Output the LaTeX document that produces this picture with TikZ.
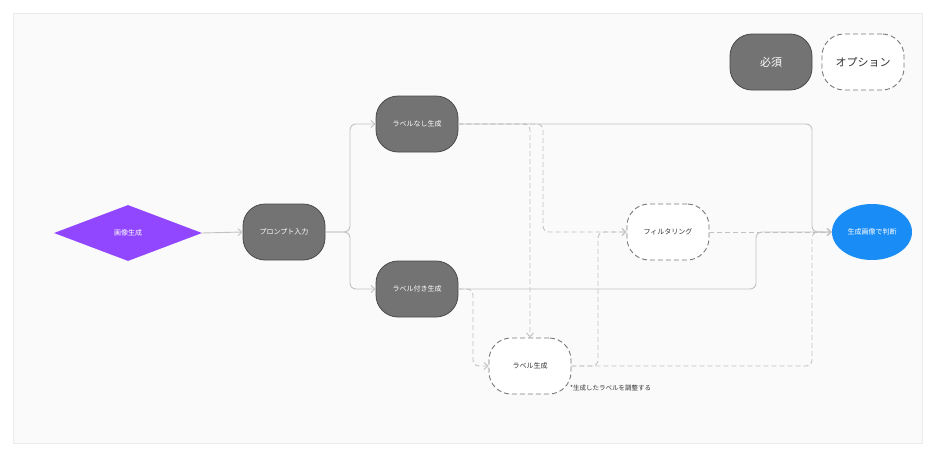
\documentclass[tikz,border=0pt]{standalone}
\usepackage{fontspec}
\setmainfont{Noto Sans CJK JP}
\usetikzlibrary{shapes.geometric,arrows.meta,positioning}
\definecolor{bgc}{HTML}{FAFAFA}
\definecolor{bgline}{HTML}{EBEBEB}
\definecolor{reqfill}{HTML}{737373}
\definecolor{reqline}{HTML}{4A4A4A}
\definecolor{optline}{HTML}{7A7A7A}
\definecolor{conn}{HTML}{C2C2C2}
\definecolor{purp}{HTML}{9146FF}
\definecolor{bluec}{HTML}{1A8CF5}
\definecolor{txt}{HTML}{333333}
\tikzset{
  x=1pt,y=1pt,
  reqbox/.style={draw=reqline, line width=0.8pt, fill=reqfill, rounded corners=22pt,
    minimum width=82pt, minimum height=56pt, inner sep=0pt, text=white, font=\fontsize{7}{8}\selectfont},
  optbox/.style={draw=optline, line width=0.9pt, dash pattern=on 5pt off 3pt, fill=white, rounded corners=22pt,
    minimum width=82pt, minimum height=56pt, inner sep=0pt, text=txt, font=\fontsize{7}{8}\selectfont},
  solidc/.style={draw=conn, line width=0.9pt, rounded corners=6pt, -{Straight Barb[length=4pt,width=7pt]}},
  dashc/.style={solidc, dash pattern=on 5pt off 3pt},
}
\begin{document}
\begin{tikzpicture}
\useasboundingbox (0,0) rectangle (936,-458);
\fill[white] (0,0) rectangle (936,-458);
\draw[bgline, fill=bgc, line width=0.6pt] (13,-13) rectangle (922,-443);

% nodes
\node[diamond, fill=purp, aspect=2.64, minimum width=148pt, minimum height=56pt, inner sep=0pt,
  text=white, font=\fontsize{7}{8}\selectfont] (dia) at (128,-233) {画像生成};
\node[reqbox] (prompt) at (284,-232) {プロンプト入力};
\node[reqbox] (nashi) at (417,-124) {ラベルなし生成};
\node[reqbox] (tsuki) at (417,-289) {ラベル付き生成};
\node[optbox] (filter) at (668,-232) {フィルタリング};
\node[optbox] (labelgen) at (530,-366) {ラベル生成};
\node[ellipse, fill=bluec, minimum width=80pt, minimum height=56pt, inner sep=0pt,
  text=white, font=\fontsize{7}{8}\selectfont] (judge) at (872,-232) {生成画像で判断};
\node[anchor=west, text=txt, font=\fontsize{6.5}{7}\selectfont, inner sep=0pt] (note) at (570,-388) {*生成したラベルを調整する};

% legend
\node[reqbox, font=\fontsize{11}{12}\selectfont] (legreq) at (771,-62) {必須};
\node[optbox, font=\fontsize{11}{12}\selectfont] (legopt) at (863,-62) {オプション};

% dashed connectors
\draw[dashc] (nashi.east) -| (543,-232) -- (filter.west);
\draw[dashc] (nashi.east) -| (labelgen.north);
\draw[dashc] (tsuki.east) -- (473,-289) |- (labelgen.west);
\draw[dashc] (labelgen.east) -| (598,-232) -- (filter.west);
\draw[dashc] (labelgen.east) -| (812,-232) -- (judge.west);
\draw[dashc] (filter.east) -- (judge.west);

% solid connectors
\draw[solidc] (dia.east) -- (prompt.west);
\draw[solidc] (prompt.east) -- (350,-232) |- (nashi.west);
\draw[solidc] (prompt.east) -- (350,-232) |- (tsuki.west);
\draw[solidc] (nashi.east) -| (812,-232) -- (judge.west);
\draw[solidc] (tsuki.east) -| (756,-232) -- (judge.west);
\end{tikzpicture}
\end{document}
